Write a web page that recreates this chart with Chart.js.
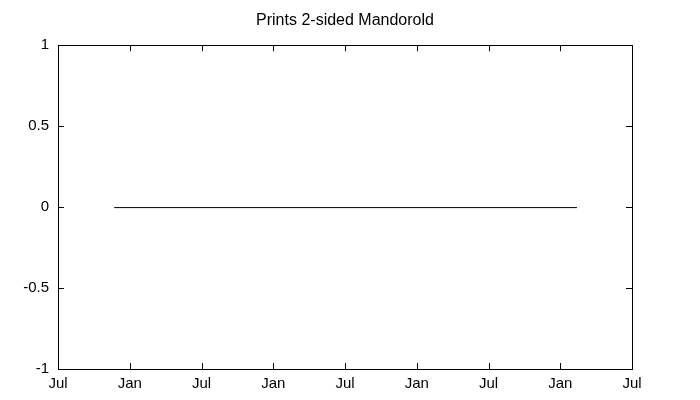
<!DOCTYPE html>
<html>
<head>
<meta charset="utf-8">
<script src="https://cdn.jsdelivr.net/npm/chart.js@4"></script>
<style>
  body { margin: 0; background: #fff; }
  #wrap { width: 700px; height: 400px; }
</style>
</head>
<body>
<div id="wrap"><canvas id="grafico"></canvas></div>
<script>
// months counted from Jul (first tick)
var tickLabels = ['Jul', 'Jan'];
var monthsX = [4.7, 43.4];
var prints = [0, 0];

var punti = [];
for (var i = 0; i < monthsX.length; i++) {
    punti.push({ x: monthsX[i], y: prints[i] });
}

var fontBase = { family: '"Liberation Sans", Arial, sans-serif', size: 15 };

// gnuplot-like box with inward ticks on all four sides
var boxTicks = {
    id: 'boxTicks',
    beforeDatasetsDraw: function (chart) {
        chart.ctx.save();
        chart.ctx.translate(0, 0.5); // keep the 1px line crisp
    },
    afterDatasetsDraw: function (chart) {
        chart.ctx.restore();
    },
    afterDraw: function (chart) {
        var ctx = chart.ctx;
        var a = chart.chartArea;
        var xs = chart.scales.x;
        var ys = chart.scales.y;
        var len = 6;
        ctx.save();
        ctx.strokeStyle = '#000';
        ctx.lineWidth = 1;
        ctx.beginPath();
        xs.ticks.forEach(function (t) {
            var px = Math.round(xs.getPixelForValue(t.value)) + 0.5;
            ctx.moveTo(px, a.bottom);
            ctx.lineTo(px, a.bottom - len);
            ctx.moveTo(px, a.top);
            ctx.lineTo(px, a.top + len);
        });
        ys.ticks.forEach(function (t) {
            var py = Math.round(ys.getPixelForValue(t.value)) + 0.5;
            ctx.moveTo(a.left, py);
            ctx.lineTo(a.left + len, py);
            ctx.moveTo(a.right, py);
            ctx.lineTo(a.right - len, py);
        });
        ctx.stroke();
        ctx.strokeRect(Math.round(a.left) + 0.5, Math.round(a.top) + 0.5,
            Math.round(a.right - a.left), Math.round(a.bottom - a.top));
        ctx.restore();
    }
};

var chart = new Chart(document.getElementById('grafico'), {
    type: 'line',
    data: {
        datasets: [{
            data: punti,
            borderColor: '#000',
            borderWidth: 1,
            pointRadius: 0,
            fill: false,
            tension: 0
        }]
    },
    options: {
        responsive: true,
        maintainAspectRatio: false,
        animation: false,
        layout: { padding: { left: 0, right: 10, top: 0, bottom: 0 } },
        plugins: {
            legend: { display: false },
            tooltip: { enabled: false },
            title: {
                display: true,
                text: 'Prints 2-sided Mandorold',
                color: '#000',
                font: { family: fontBase.family, size: 16, weight: 'normal' },
                padding: { top: 11, bottom: 15 }
            }
        },
        scales: {
            x: {
                type: 'linear',
                min: 0,
                max: 48,
                grid: { display: false, drawTicks: false },
                border: { display: false },
                ticks: {
                    stepSize: 6,
                    maxRotation: 0,
                    color: '#000',
                    font: fontBase,
                    padding: 6,
                    callback: function (v) {
                        return v % 12 === 0 ? tickLabels[0] : tickLabels[1];
                    }
                },
                afterFit: function (s) { s.height = 31; }
            },
            y: {
                min: -1,
                max: 1,
                grid: { display: false, drawTicks: false },
                border: { display: false },
                ticks: {
                    stepSize: 0.5,
                    color: '#000',
                    font: fontBase,
                    padding: 9,
                    callback: function (v) { return String(v); }
                },
                afterFit: function (s) { s.width = 58; }
            },
            // empty right axis, only reserves the right margin
            y2: {
                position: 'right',
                min: -1,
                max: 1,
                grid: { display: false, drawTicks: false },
                border: { display: false },
                ticks: { display: false },
                afterFit: function (s) { s.width = 58; }
            }
        }
    },
    plugins: [boxTicks]
});
</script>
</body>
</html>
